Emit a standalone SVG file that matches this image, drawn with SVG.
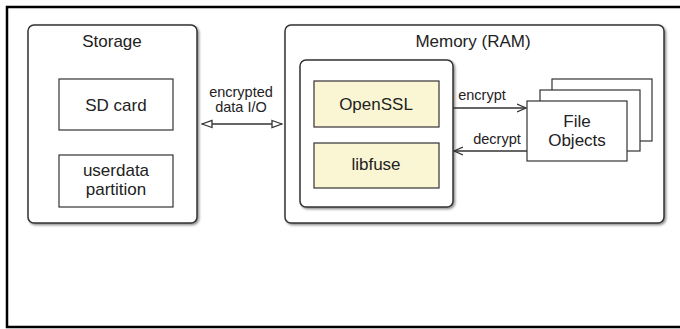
<svg xmlns="http://www.w3.org/2000/svg" width="680" height="329" viewBox="0 0 680 329">
<style>
text{font-family:"Liberation Sans",Arial,sans-serif;fill:#222;text-anchor:middle}
.big{font-size:17px}
.sm{font-size:14.5px}
.cont{fill:#fff;stroke:#333;stroke-width:1.5}
.box{fill:#fff;stroke:#333;stroke-width:1.2}
.yel{fill:#faf6d4;stroke:#333;stroke-width:1.2}
.ln{fill:none;stroke:#333;stroke-width:1.3}
</style>
<defs>
<filter id="sh" x="-5%" y="-5%" width="110%" height="110%">
<feDropShadow dx="1.5" dy="1.5" stdDeviation="1" flood-color="#000" flood-opacity="0.45"/>
</filter>
<marker id="open" viewBox="0 0 10 10" refX="9" refY="5" markerWidth="10" markerHeight="10" markerUnits="userSpaceOnUse" orient="auto-start-reverse">
<path d="M0,1 L9,5 L0,9" fill="none" stroke="#333" stroke-width="1.3"/>
</marker>
<marker id="tri" viewBox="0 0 12 10" refX="11" refY="5" markerWidth="12" markerHeight="10" markerUnits="userSpaceOnUse" orient="auto-start-reverse">
<path d="M1,1.5 L11,5 L1,8.5 Z" fill="#fff" stroke="#333" stroke-width="1.3"/>
</marker>
</defs>
<rect width="680" height="329" fill="#fff"/>
<path d="M682,7 H7 V327 H682" fill="none" stroke="#000" stroke-width="2.5"/>

<g id="storage">
<rect class="cont" x="28" y="25" width="169" height="198" rx="6" filter="url(#sh)"/>
<text class="big" x="112" y="47">Storage</text>
</g>
<g id="sdcard">
<rect class="box" x="59" y="79" width="114" height="51"/>
<text class="big" x="116" y="111">SD card</text>
</g>
<g id="userdata">
<rect class="box" x="59" y="155" width="114" height="52"/>
<text class="big" x="116" y="176">userdata</text>
<text class="big" x="116" y="195">partition</text>
</g>

<g id="memory">
<rect class="cont" x="285" y="25" width="379" height="198" rx="6" filter="url(#sh)"/>
<text class="big" x="473" y="47">Memory (RAM)</text>
</g>
<g id="libs">
<rect class="cont" x="300" y="60" width="153" height="147" rx="6" filter="url(#sh)"/>
</g>
<g id="openssl">
<rect class="yel" x="314" y="81" width="125" height="46"/>
<text class="big" x="376" y="110">OpenSSL</text>
</g>
<g id="libfuse">
<rect class="yel" x="314" y="143" width="125" height="45"/>
<text class="big" x="376" y="170">libfuse</text>
</g>
<g id="fileobjects">
<rect class="box" x="552" y="79" width="100" height="62"/>
<rect class="box" x="540" y="90" width="100" height="61"/>
<rect class="box" x="527" y="101" width="100" height="60"/>
<text class="big" x="577" y="127">File</text>
<text class="big" x="577" y="146">Objects</text>
</g>

<g id="connectors">
<line class="ln" x1="202" y1="124" x2="282" y2="124" marker-start="url(#tri)" marker-end="url(#tri)"/>
<text class="sm" x="241" y="97">encrypted</text>
<text class="sm" x="241" y="112">data I/O</text>
<line class="ln" x1="453" y1="108" x2="526" y2="108" marker-end="url(#open)"/>
<text class="sm" x="482" y="100">encrypt</text>
<line class="ln" x1="527" y1="151" x2="454" y2="151" marker-end="url(#open)"/>
<text class="sm" x="497" y="144">decrypt</text>
</g>
</svg>
